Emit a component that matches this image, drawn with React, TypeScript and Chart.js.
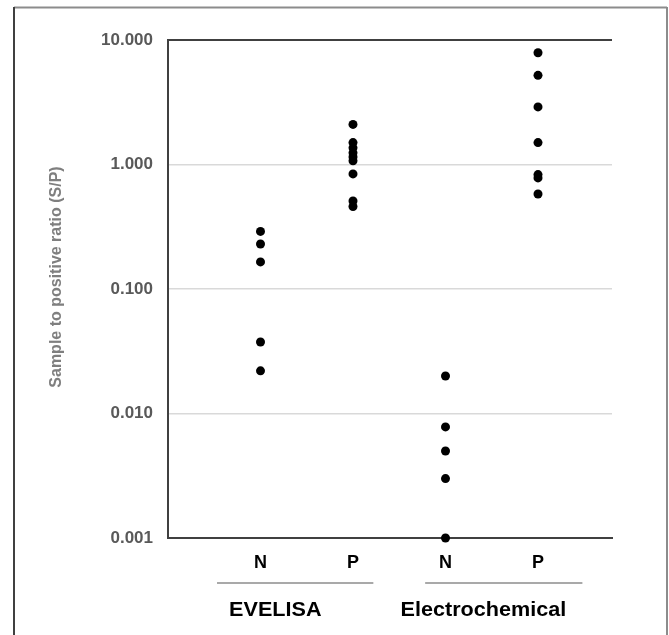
import React, { useEffect, useRef } from "react";
import { Chart, registerables } from "chart.js";

Chart.register(...registerables);

const categoryLabels = ["N", "P", "N", "P"];
const categoryPositions = [1, 2, 3, 4];
const groupLabels = ["EVELISA", "Electrochemical"];
const groupCenters = [1.16, 3.41];
const groupLineStarts = [0.53, 2.78];
const groupLineEnds = [2.22, 4.48];
const yTickValues = [0.001, 0.01, 0.1, 1, 10];
const yTitle = "Sample to positive ratio (S/P)";

const evelisaN = [0.29, 0.23, 0.165, 0.0375, 0.022];
const evelisaP = [2.1, 1.5, 1.36, 1.24, 1.15, 1.07, 0.84, 0.51, 0.46];
const electroN = [0.02, 0.0078, 0.005, 0.003, 0.001];
const electroP = [7.9, 5.2, 2.9, 1.5, 0.83, 0.78, 0.58];

const seriesList = [evelisaN, evelisaP, electroN, electroP];

const W = 669;
const H = 635;

const decorPlugin = {
  id: "decor",
  beforeDraw(chart: any) {
    const ctx = chart.ctx;
    ctx.save();
    ctx.fillStyle = "#ffffff";
    ctx.fillRect(0, 0, chart.width, chart.height);
    ctx.lineWidth = 2;
    ctx.strokeStyle = "#8c8c8c";
    ctx.beginPath();
    ctx.moveTo(14, 7.5);
    ctx.lineTo(667, 7.5);
    ctx.moveTo(667, 7);
    ctx.lineTo(667, chart.height);
    ctx.stroke();
    ctx.strokeStyle = "#404040";
    ctx.beginPath();
    ctx.moveTo(14, 7);
    ctx.lineTo(14, chart.height);
    ctx.stroke();
    ctx.restore();
  },
  afterDraw(chart: any) {
    const ctx = chart.ctx;
    const xs = chart.scales.x;
    const area = chart.chartArea;
    ctx.save();
    ctx.translate(57, (area.top + area.bottom) / 2 - 12);
    ctx.rotate(-Math.PI / 2);
    ctx.fillStyle = "#7f7f7f";
    ctx.font = "bold 16px 'Liberation Sans', Arial, sans-serif";
    ctx.textAlign = "center";
    ctx.textBaseline = "middle";
    ctx.fillText(yTitle, 0, 0);
    ctx.restore();

    ctx.save();
    ctx.strokeStyle = "#8c8c8c";
    ctx.lineWidth = 1.5;
    for (let i = 0; i < groupLabels.length; i++) {
      const x1 = xs.getPixelForValue(groupLineStarts[i]);
      const x2 = xs.getPixelForValue(groupLineEnds[i]);
      ctx.beginPath();
      ctx.moveTo(x1, 583);
      ctx.lineTo(x2, 583);
      ctx.stroke();
    }
    ctx.fillStyle = "#000000";
    ctx.font = "bold 20px 'Liberation Sans', Arial, sans-serif";
    ctx.textAlign = "center";
    ctx.textBaseline = "middle";
    for (let i = 0; i < groupLabels.length; i++) {
      ctx.save();
      ctx.translate(xs.getPixelForValue(groupCenters[i]), 610);
      ctx.scale(1.08, 1);
      ctx.fillText(groupLabels[i], 0, 0);
      ctx.restore();
    }
    ctx.restore();
  },
};

export default function App() {
  const ref = useRef<HTMLCanvasElement | null>(null);

  useEffect(() => {
    if (!ref.current) return;
    const datasets = seriesList.map((vals, i) => ({
      label: categoryLabels[i],
      data: vals.map((v) => ({ x: categoryPositions[i], y: v })),
      backgroundColor: "#000000",
      borderColor: "#000000",
      borderWidth: 0,
      pointRadius: 4.5,
      pointHoverRadius: 4.5,
      clip: false as any,
    }));
    const chart = new Chart(ref.current, {
      type: "scatter",
      data: { datasets },
      options: {
        animation: false,
        responsive: false,
        layout: { padding: { left: 0, top: 40, right: 57, bottom: 0 } },
        plugins: { legend: { display: false }, tooltip: { enabled: false } },
        scales: {
          x: {
            type: "linear",
            min: 0,
            max: 4.8,
            afterFit: (s: any) => {
              s.height = H - 538;
            },
            afterBuildTicks: (s: any) => {
              s.ticks = categoryPositions.map((v) => ({ value: v }));
            },
            grid: { display: false, drawTicks: false },
            border: { display: true, color: "#404040", width: 2 },
            ticks: {
              autoSkip: false,
              maxRotation: 0,
              padding: 14,
              color: "#000000",
              font: { family: "'Liberation Sans', Arial, sans-serif", size: 18, weight: "bold" },
              callback: (v: any) => {
                const idx = categoryPositions.indexOf(Number(v));
                return idx >= 0 ? categoryLabels[idx] : "";
              },
            },
          },
          y: {
            type: "logarithmic",
            min: 0.001,
            max: 10,
            afterFit: (s: any) => {
              s.width = 168;
            },
            afterBuildTicks: (s: any) => {
              s.ticks = yTickValues.map((v) => ({ value: v }));
            },
            grid: {
              drawTicks: false,
              color: (c: any) =>
                c.tick && c.tick.value === 10
                  ? "#404040"
                  : c.tick && c.tick.value === 0.001
                  ? "rgba(0,0,0,0)"
                  : "#d9d9d9",
              lineWidth: (c: any) => (c.tick && c.tick.value === 10 ? 2 : 1.5),
            },
            border: { display: true, color: "#404040", width: 2 },
            ticks: {
              padding: 15,
              color: "#595959",
              font: { family: "'Liberation Sans', Arial, sans-serif", size: 17, weight: "bold" },
              callback: (v: any) => Number(v).toFixed(3),
            },
          },
        },
      },
      plugins: [decorPlugin],
    });
    return () => chart.destroy();
  }, []);

  return (
    <div style={{ position: "absolute", left: 0, top: 0, width: W, height: H }}>
      <canvas ref={ref} width={W} height={H} style={{ display: "block" }} />
    </div>
  );
}
